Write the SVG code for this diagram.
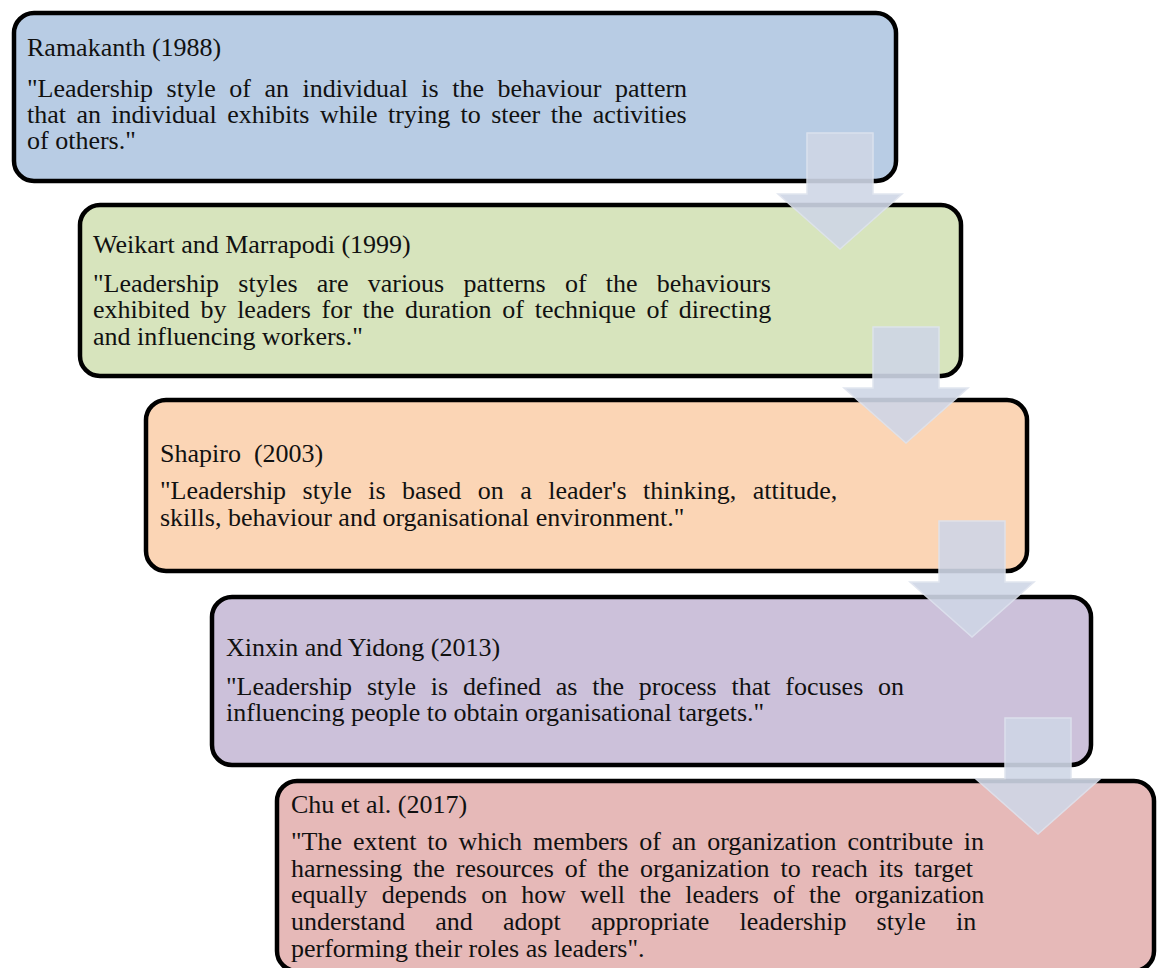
<svg xmlns="http://www.w3.org/2000/svg" xmlns:xlink="http://www.w3.org/1999/xlink" width="1157" height="968" viewBox="0 0 1157 968">
  <style>
    .box { stroke: #000; stroke-width: 4.5; }
    .t { font-family: "Liberation Serif", "Times New Roman", serif; font-size: 26px; fill: #111; }
    .flow { fill: #CFD6E6; stroke: #DEE3EE; stroke-width: 1.5; opacity: 0.9; }
  </style>
  <defs>
    <!-- block arrow: shaft top at 0, head starts at 61, tip at 116 -->
    <path id="downArrow" d="M-33 0 H33 V61 H62 L0 116 L-62 61 H-33 Z"/>
  </defs>

  <rect width="1157" height="968" fill="#fff"/>

  <g id="node-ramakanth">
    <rect class="box" x="14" y="13" width="882" height="168" rx="20" fill="#B8CCE4"/>
    <text class="t" x="27" y="56">Ramakanth (1988)</text>
    <text class="t" x="27" y="96.5" word-spacing="7">"Leadership style of an individual is the behaviour pattern</text>
    <text class="t" x="27" y="122.5" word-spacing="3.9">that an individual exhibits while trying to steer the activities</text>
    <text class="t" x="27" y="148.5">of others."</text>
  </g>

  <g id="node-weikart">
    <rect class="box" x="80" y="205" width="881" height="171" rx="20" fill="#D7E4BD"/>
    <text class="t" x="93" y="253">Weikart and Marrapodi (1999)</text>
    <text class="t" x="93" y="291.5" word-spacing="12.7">"Leadership styles are various patterns of the behaviours</text>
    <text class="t" x="93" y="318.2" word-spacing="4.2">exhibited by leaders for the duration of technique of directing</text>
    <text class="t" x="93" y="345">and influencing workers."</text>
  </g>

  <g id="node-shapiro">
    <rect class="box" x="146" y="400" width="881" height="171" rx="20" fill="#FBD5B5"/>
    <text class="t" x="160" y="461.7" xml:space="preserve">Shapiro  (2003)</text>
    <text class="t" x="160" y="499" word-spacing="10">"Leadership style is based on a leader's thinking, attitude,</text>
    <text class="t" x="160" y="526">skills, behaviour and organisational environment."</text>
  </g>

  <g id="node-xinxin">
    <rect class="box" x="212" y="597" width="879" height="168" rx="20" fill="#CCC1DA"/>
    <text class="t" x="226" y="656">Xinxin and Yidong (2013)</text>
    <text class="t" x="226" y="695" word-spacing="8.3">"Leadership style is defined as the process that focuses on</text>
    <text class="t" x="226" y="721">influencing people to obtain organisational targets."</text>
  </g>

  <g id="node-chu">
    <rect class="box" x="277" y="781" width="877" height="190" rx="20" fill="#E6B9B8"/>
    <text class="t" x="291" y="812.7">Chu et al. (2017)</text>
    <text class="t" x="291" y="850" word-spacing="4.4">"The extent to which members of an organization contribute in</text>
    <text class="t" x="291" y="876.7" word-spacing="4.4">harnessing the resources of the organization to reach its target</text>
    <text class="t" x="291" y="903.3" word-spacing="7.7">equally depends on how well the leaders of the organization</text>
    <text class="t" x="291" y="930" word-spacing="23.7">understand and adopt appropriate leadership style in</text>
    <text class="t" x="291" y="956.7">performing their roles as leaders".</text>
  </g>

  <g id="connectors">
    <use xlink:href="#downArrow" class="flow" transform="translate(840,133)"/>
    <use xlink:href="#downArrow" class="flow" transform="translate(906,327)"/>
    <use xlink:href="#downArrow" class="flow" transform="translate(972,521)"/>
    <use xlink:href="#downArrow" class="flow" transform="translate(1038,718)"/>
  </g>
</svg>
